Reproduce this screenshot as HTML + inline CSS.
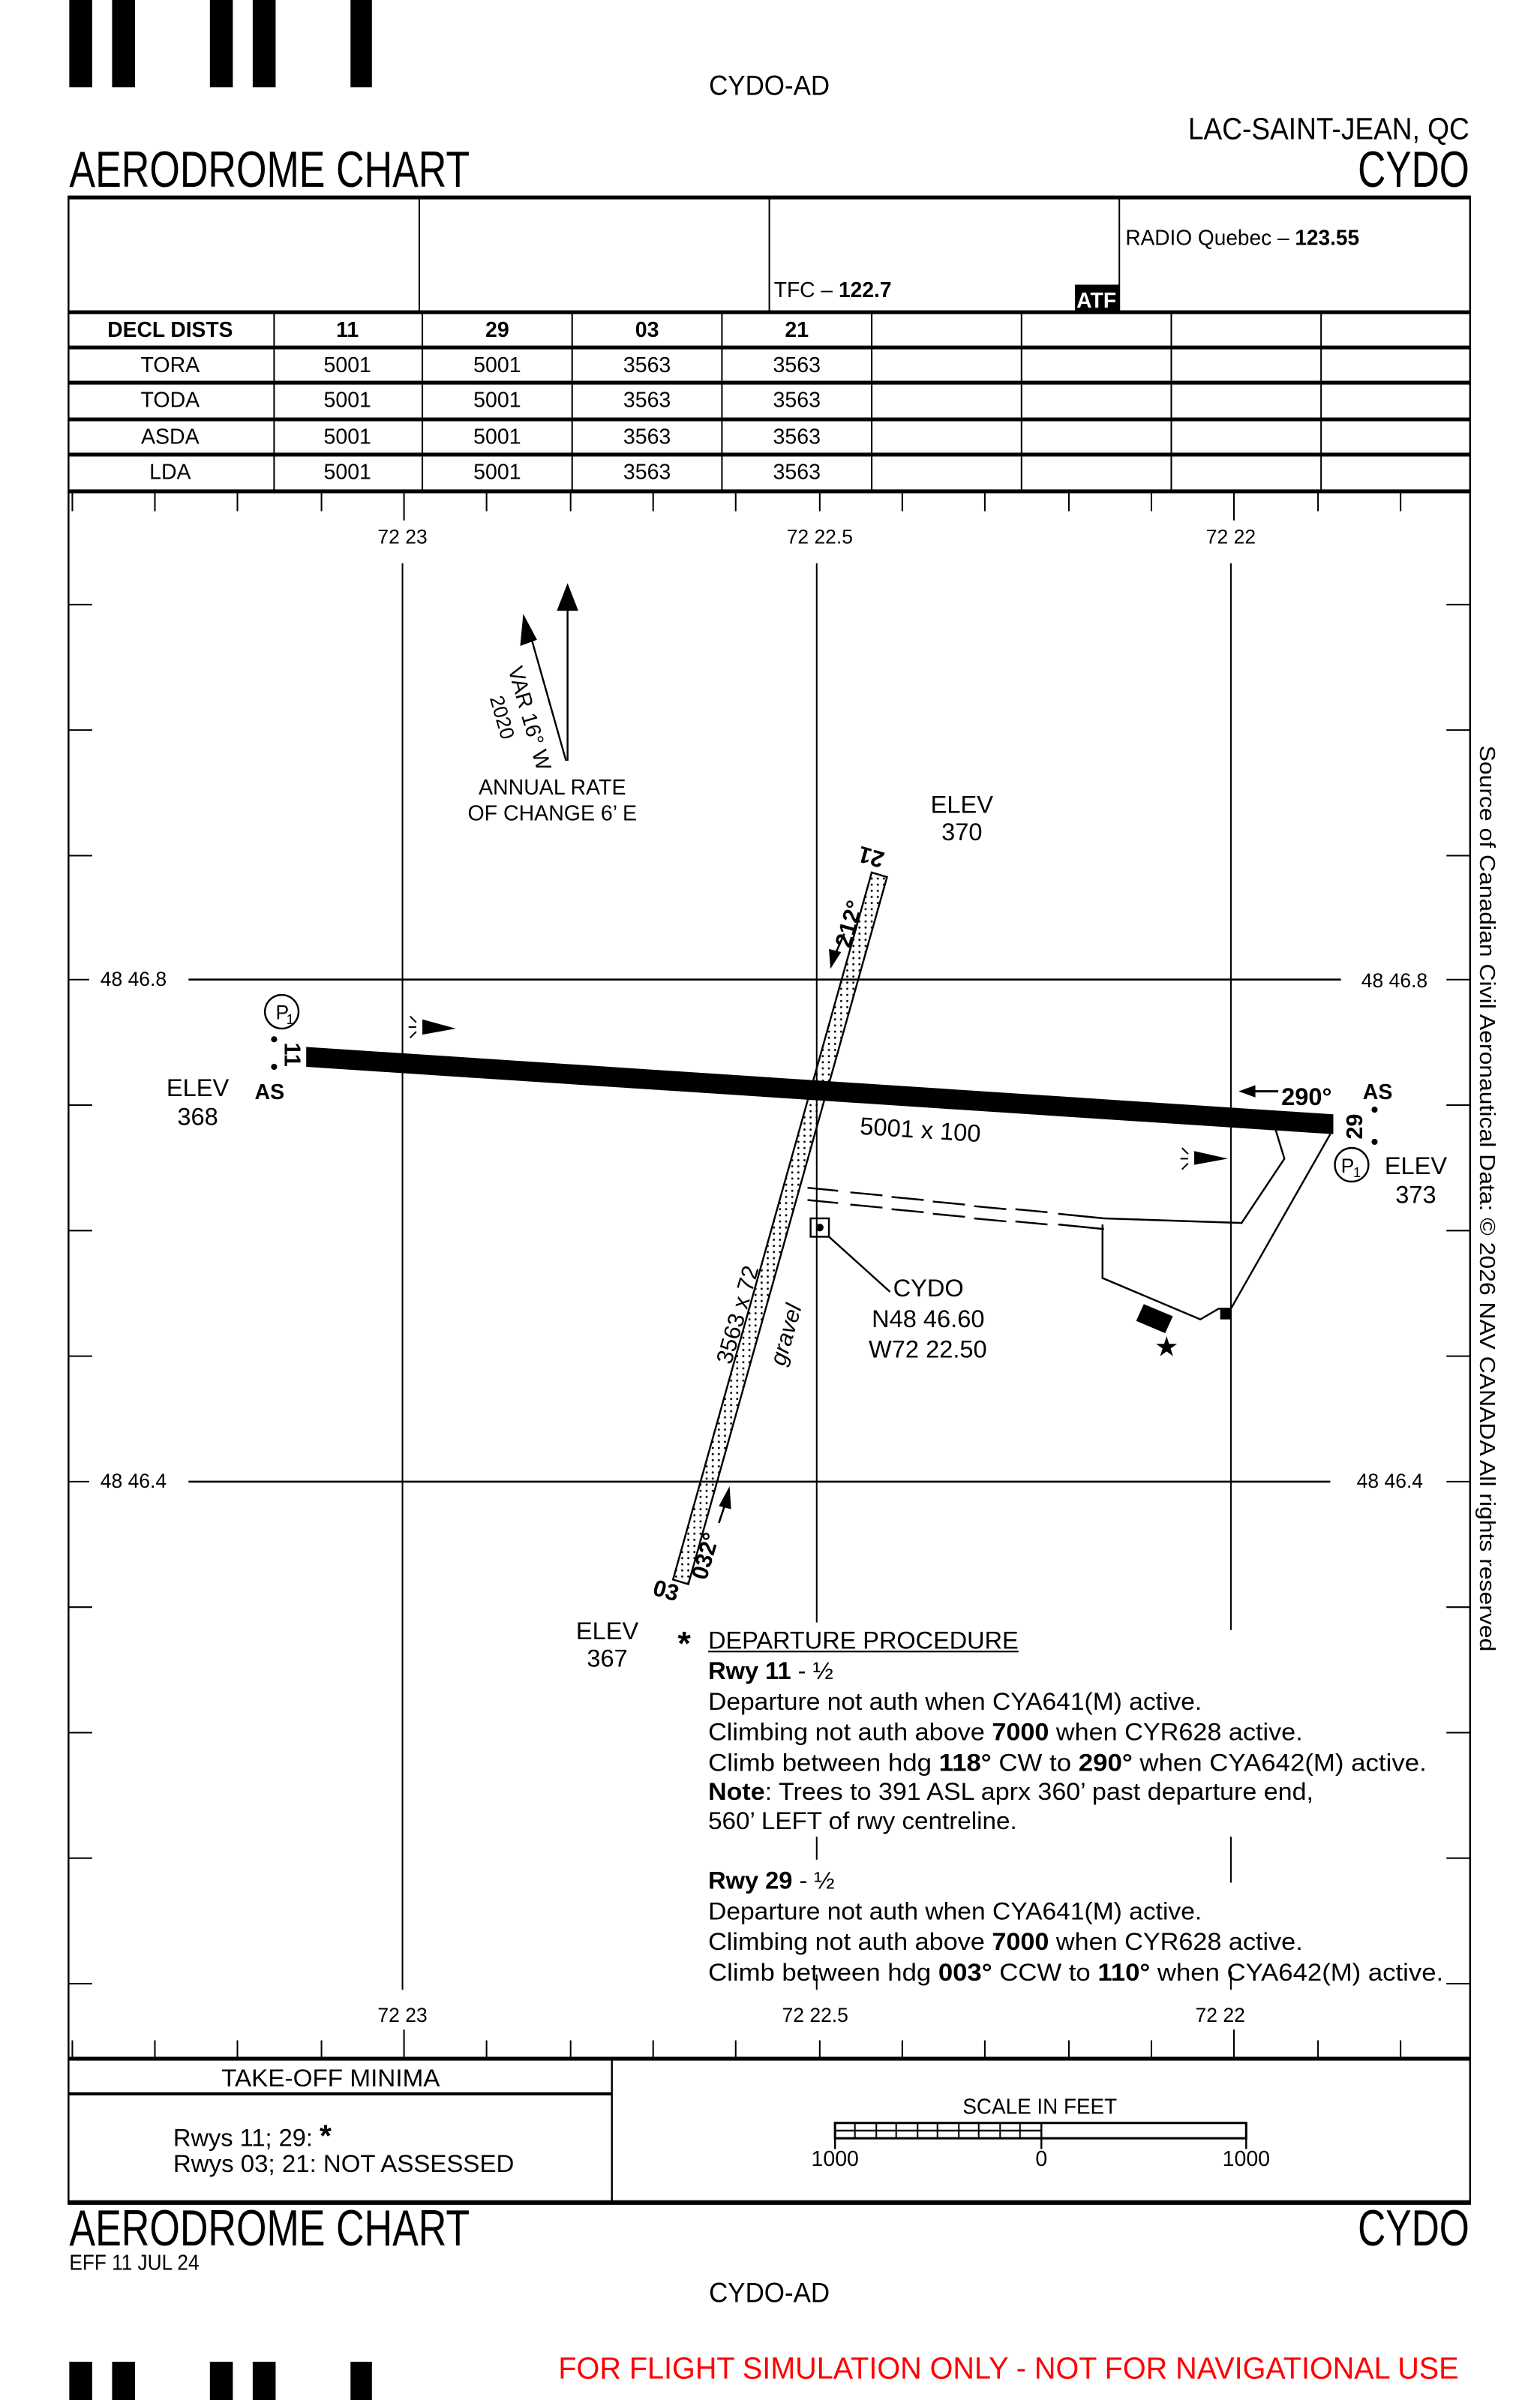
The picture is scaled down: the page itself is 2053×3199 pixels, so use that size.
<!DOCTYPE html>
<html><head><meta charset="utf-8"><style>
html,body{margin:0;padding:0;background:#fff}
svg{display:block}
text{font-family:"Liberation Sans",sans-serif;fill:#000}
</style></head><body>
<svg width="2053" height="3199" viewBox="0 0 1000 1568" preserveAspectRatio="none" xmlns="http://www.w3.org/2000/svg">
<rect width="1000" height="1568" fill="#fff"/>
<g transform="translate(44,0) scale(0.9925,1) translate(-44,0)">
<!-- barcodes -->
<g fill="#000">
<rect x="45" y="0" width="15" height="57"/><rect x="73" y="0" width="15" height="57"/>
<rect x="137" y="0" width="15" height="57"/><rect x="165" y="0" width="15" height="57"/>
<rect x="229" y="0" width="14" height="57"/>
<rect x="45" y="1543" width="15" height="25"/><rect x="73" y="1543" width="15" height="25"/>
<rect x="137" y="1543" width="15" height="25"/><rect x="165" y="1543" width="15" height="25"/>
<rect x="229" y="1543" width="14" height="25"/>
</g>
<text x="503" y="62" font-size="18" text-anchor="middle" textLength="79" lengthAdjust="spacingAndGlyphs">CYDO-AD</text>
<text x="961" y="91" font-size="20" text-anchor="end" textLength="184" lengthAdjust="spacingAndGlyphs">LAC-SAINT-JEAN, QC</text>
<text x="45" y="122" font-size="33" textLength="262" lengthAdjust="spacingAndGlyphs">AERODROME CHART</text>
<text x="961" y="122" font-size="33" text-anchor="end" textLength="73" lengthAdjust="spacingAndGlyphs">CYDO</text>

<!-- top info box -->
<g stroke="#000" fill="none">
<line x1="44" y1="129" x2="962" y2="129" stroke-width="2.5"/>
<line x1="44.5" y1="128" x2="44.5" y2="1440" stroke-width="1.2"/>
<line x1="961.5" y1="128" x2="961.5" y2="1440" stroke-width="1.2"/>
<line x1="274" y1="129" x2="274" y2="203" stroke-width="1"/>
<line x1="503" y1="129" x2="503" y2="203" stroke-width="1"/>
<line x1="732" y1="129" x2="732" y2="203" stroke-width="1"/>
<line x1="44" y1="204" x2="962" y2="204" stroke-width="2.5"/>
<line x1="44" y1="227" x2="962" y2="227" stroke-width="2.5"/>
<line x1="44" y1="250" x2="962" y2="250" stroke-width="2.5"/>
<line x1="44" y1="274" x2="962" y2="274" stroke-width="2.5"/>
<line x1="44" y1="297" x2="962" y2="297" stroke-width="2.5"/>
<line x1="44" y1="321" x2="962" y2="321" stroke-width="2.5"/>
<g stroke-width="1">
<line x1="179" y1="204" x2="179" y2="321"/><line x1="276" y1="204" x2="276" y2="321"/>
<line x1="374" y1="204" x2="374" y2="321"/><line x1="472" y1="204" x2="472" y2="321"/>
<line x1="570" y1="204" x2="570" y2="321"/><line x1="668" y1="204" x2="668" y2="321"/>
<line x1="766" y1="204" x2="766" y2="321"/><line x1="864" y1="204" x2="864" y2="321"/>
</g>
</g>
<text x="506" y="194" font-size="14" textLength="77" lengthAdjust="spacingAndGlyphs">TFC – <tspan font-weight="bold">122.7</tspan></text>
<rect x="703" y="186" width="29" height="17" fill="#000"/>
<text x="717" y="201" font-size="14" font-weight="bold" text-anchor="middle" style="fill:#fff" textLength="26" lengthAdjust="spacingAndGlyphs">ATF</text>
<text x="736" y="160" font-size="14" textLength="153" lengthAdjust="spacingAndGlyphs">RADIO Quebec – <tspan font-weight="bold">123.55</tspan></text>
<g font-size="14" text-anchor="middle">
<text x="111" y="220" font-weight="bold" textLength="82" lengthAdjust="spacingAndGlyphs">DECL DISTS</text>
<text x="227" y="220" font-weight="bold">11</text><text x="325" y="220" font-weight="bold">29</text>
<text x="423" y="220" font-weight="bold">03</text><text x="521" y="220" font-weight="bold">21</text>
<text x="111" y="243">TORA</text><text x="111" y="266">TODA</text><text x="111" y="290">ASDA</text><text x="111" y="313">LDA</text>
<text x="227" y="243">5001</text><text x="325" y="243">5001</text><text x="423" y="243">3563</text><text x="521" y="243">3563</text>
<text x="227" y="266">5001</text><text x="325" y="266">5001</text><text x="423" y="266">3563</text><text x="521" y="266">3563</text>
<text x="227" y="290">5001</text><text x="325" y="290">5001</text><text x="423" y="290">3563</text><text x="521" y="290">3563</text>
<text x="227" y="313">5001</text><text x="325" y="313">5001</text><text x="423" y="313">3563</text><text x="521" y="313">3563</text>
</g>

<!-- tick strips -->
<g stroke="#000" stroke-width="1">
<line x1="47" y1="321" x2="47" y2="334"/><line x1="101" y1="321" x2="101" y2="334"/><line x1="155" y1="321" x2="155" y2="334"/>
<line x1="210" y1="321" x2="210" y2="334"/><line x1="264" y1="321" x2="264" y2="340"/><line x1="318" y1="321" x2="318" y2="334"/>
<line x1="373" y1="321" x2="373" y2="334"/><line x1="427" y1="321" x2="427" y2="334"/><line x1="481" y1="321" x2="481" y2="334"/>
<line x1="536" y1="321" x2="536" y2="334"/><line x1="590" y1="321" x2="590" y2="334"/><line x1="644" y1="321" x2="644" y2="334"/>
<line x1="699" y1="321" x2="699" y2="334"/><line x1="753" y1="321" x2="753" y2="334"/><line x1="807" y1="321" x2="807" y2="340"/>
<line x1="862" y1="321" x2="862" y2="334"/><line x1="916" y1="321" x2="916" y2="334"/>

<line x1="47" y1="1333" x2="47" y2="1345"/><line x1="101" y1="1333" x2="101" y2="1345"/><line x1="155" y1="1333" x2="155" y2="1345"/>
<line x1="210" y1="1333" x2="210" y2="1345"/><line x1="264" y1="1326" x2="264" y2="1345"/><line x1="318" y1="1333" x2="318" y2="1345"/>
<line x1="373" y1="1333" x2="373" y2="1345"/><line x1="427" y1="1333" x2="427" y2="1345"/><line x1="481" y1="1333" x2="481" y2="1345"/>
<line x1="536" y1="1333" x2="536" y2="1345"/><line x1="590" y1="1333" x2="590" y2="1345"/><line x1="644" y1="1333" x2="644" y2="1345"/>
<line x1="699" y1="1333" x2="699" y2="1345"/><line x1="753" y1="1333" x2="753" y2="1345"/><line x1="807" y1="1326" x2="807" y2="1345"/>
<line x1="862" y1="1333" x2="862" y2="1345"/><line x1="916" y1="1333" x2="916" y2="1345"/>
<!-- side ticks -->
<g>
<line x1="44" y1="395" x2="60" y2="395"/><line x1="946" y1="395" x2="962" y2="395"/>
<line x1="44" y1="477" x2="60" y2="477"/><line x1="946" y1="477" x2="962" y2="477"/>
<line x1="44" y1="559" x2="60" y2="559"/><line x1="946" y1="559" x2="962" y2="559"/>
<line x1="44" y1="640" x2="58" y2="640"/><line x1="946" y1="640" x2="962" y2="640"/>
<line x1="44" y1="722" x2="60" y2="722"/><line x1="946" y1="722" x2="962" y2="722"/>
<line x1="44" y1="804" x2="60" y2="804"/><line x1="946" y1="804" x2="962" y2="804"/>
<line x1="44" y1="886" x2="60" y2="886"/><line x1="946" y1="886" x2="962" y2="886"/>
<line x1="44" y1="968" x2="58" y2="968"/><line x1="946" y1="968" x2="962" y2="968"/>
<line x1="44" y1="1050" x2="60" y2="1050"/><line x1="946" y1="1050" x2="962" y2="1050"/>
<line x1="44" y1="1132" x2="60" y2="1132"/><line x1="946" y1="1132" x2="962" y2="1132"/>
<line x1="44" y1="1214" x2="60" y2="1214"/><line x1="946" y1="1214" x2="962" y2="1214"/>
<line x1="44" y1="1296" x2="60" y2="1296"/><line x1="946" y1="1296" x2="962" y2="1296"/>
</g>
<!-- grid -->
<line x1="263" y1="368" x2="263" y2="1300"/>
<line x1="534" y1="368" x2="534" y2="1060"/>
<line x1="534" y1="1200" x2="534" y2="1215"/>
<line x1="534" y1="1290" x2="534" y2="1300"/>
<line x1="805" y1="368" x2="805" y2="1065"/>
<line x1="805" y1="1200" x2="805" y2="1230"/>
<line x1="805" y1="1288" x2="805" y2="1300"/>
<line x1="123" y1="640" x2="877" y2="640" stroke-width="1.3"/>
<line x1="123" y1="968" x2="870" y2="968" stroke-width="1.3"/>
</g>
<line x1="44" y1="1345" x2="962" y2="1345" stroke="#000" stroke-width="2.5"/>
<g font-size="13" text-anchor="middle">
<text x="263" y="355">72 23</text><text x="536" y="355">72 22.5</text><text x="805" y="355">72 22</text>
<text x="263" y="1321">72 23</text><text x="533" y="1321">72 22.5</text><text x="798" y="1321">72 22</text>
<text x="87" y="644">48 46.8</text><text x="912" y="645">48 46.8</text>
<text x="87" y="972">48 46.4</text><text x="909" y="972">48 46.4</text>
</g>

<!-- magnetic arrows -->
<g stroke="#000" stroke-width="1.2" fill="#000">
<line x1="371" y1="497" x2="371" y2="398"/>
<polygon points="371,381 364,399 378,399" stroke="none"/>
<line x1="370" y1="497" x2="347" y2="416"/>
<polygon points="342,401 340,422 351,418" stroke="none"/>
</g>
<text transform="translate(332,437) rotate(74)" font-size="14">VAR 16° W</text>
<text transform="translate(320,456) rotate(74)" font-size="13">2020</text>
<text x="361" y="519" font-size="14" text-anchor="middle">ANNUAL RATE</text>
<text x="361" y="536" font-size="14" text-anchor="middle">OF CHANGE 6’ E</text>

<!-- elevations -->
<g font-size="16" text-anchor="middle">
<text x="629" y="531">ELEV</text><text x="629" y="549">370</text>
<text x="129" y="716">ELEV</text><text x="129" y="735">368</text>
<text x="926" y="767">ELEV</text><text x="926" y="786">373</text>
<text x="397" y="1071">ELEV</text><text x="397" y="1089">367</text>
</g>

<!-- runway 03/21 -->
<defs><pattern id="dots" width="4" height="4" patternUnits="userSpaceOnUse"><circle cx="2" cy="2" r="0.7" fill="#000"/></pattern></defs>
<polygon points="440,1032 450,1035 580,573 570,570" fill="url(#dots)" stroke="#000" stroke-width="1.2"/>
<!-- runway 11/29 -->
<polygon points="200,684 872,728 872,741 200,697" fill="#000"/>
<text x="562" y="741" font-size="16" transform="rotate(3.7 562 741)">5001 x 100</text>

<!-- runway labels -->
<text transform="translate(571,555) rotate(196)" font-size="15" font-weight="bold" text-anchor="middle">21</text>
<text transform="translate(560,605) rotate(-74)" font-size="15" font-weight="bold" text-anchor="middle">212°</text>
<line x1="552" y1="610" x2="545" y2="626" stroke="#000" stroke-width="1.3"/>
<polygon points="543,633 542,620 550,622"/>
<text transform="translate(434,1044) rotate(16)" font-size="15" font-weight="bold" text-anchor="middle">03</text>
<text transform="translate(466,1018) rotate(-74)" font-size="15" font-weight="bold" text-anchor="middle">032°</text>
<line x1="470" y1="995" x2="475" y2="980" stroke="#000" stroke-width="1.3"/>
<polygon points="477,971 470,984 478,986"/>
<text transform="translate(478,892) rotate(-74)" font-size="15">3563 x 72</text>
<text transform="translate(513,893) rotate(-74)" font-size="15" font-style="italic">gravel</text>

<text transform="translate(186,689) rotate(90)" font-size="15" font-weight="bold" text-anchor="middle">11</text>
<circle cx="179" cy="679" r="2"/><circle cx="179" cy="697" r="2"/>
<text x="176" y="718" font-size="14" font-weight="bold" text-anchor="middle">AS</text>
<circle cx="184" cy="661" r="11" fill="none" stroke="#000" stroke-width="1.2"/>
<text x="180" y="666" font-size="13">P</text><text x="187" y="669" font-size="9">1</text>

<text transform="translate(891,736) rotate(-90)" font-size="15" font-weight="bold" text-anchor="middle">29</text>
<circle cx="899" cy="725" r="2"/><circle cx="899" cy="746" r="2"/>
<text x="901" y="718" font-size="14" font-weight="bold" text-anchor="middle">AS</text>
<circle cx="884" cy="761" r="11" fill="none" stroke="#000" stroke-width="1.2"/>
<text x="877" y="766" font-size="13">P</text><text x="885" y="769" font-size="9">1</text>
<text x="838" y="722" font-size="16" font-weight="bold">290°</text>
<line x1="818" y1="713" x2="836" y2="713" stroke="#000" stroke-width="1.5"/>
<polygon points="810,713 821,709 821,717"/>

<!-- PAPI/lights -->
<polygon points="276,666 298,672 276,676"/>
<g stroke="#000" stroke-width="1"><line x1="268" y1="664" x2="272" y2="668"/><line x1="267" y1="671" x2="272" y2="671"/><line x1="268" y1="678" x2="272" y2="674"/></g>
<polygon points="781,752 803,757 781,761"/>
<g stroke="#000" stroke-width="1"><line x1="773" y1="750" x2="777" y2="754"/><line x1="772" y1="757" x2="777" y2="757"/><line x1="773" y1="764" x2="777" y2="760"/></g>

<!-- taxiways/apron -->
<g stroke="#000" stroke-width="1.2" fill="none">
<line x1="528" y1="776" x2="548" y2="778"/><line x1="528" y1="784" x2="548" y2="786"/>
<line x1="556" y1="779" x2="577" y2="781"/><line x1="556" y1="787" x2="577" y2="789"/>
<line x1="583" y1="782" x2="604" y2="784"/><line x1="583" y1="790" x2="604" y2="792"/>
<line x1="610" y1="785" x2="631" y2="787"/><line x1="610" y1="793" x2="631" y2="795"/>
<line x1="637" y1="788" x2="658" y2="790"/><line x1="637" y1="796" x2="658" y2="798"/>
<line x1="664" y1="790" x2="685" y2="792"/><line x1="664" y1="798" x2="685" y2="800"/>
<line x1="692" y1="793" x2="722" y2="796"/><line x1="692" y1="800" x2="722" y2="803"/>
<polyline points="722,796 812,799 840,757 833,734"/>
<polyline points="721,800 721,835 785,862 797,855 805,855 870,741"/>
<rect x="530" y="796" width="12" height="12"/>
<line x1="542" y1="808" x2="582" y2="844"/>
</g>
<circle cx="536" cy="802" r="2.5"/>
<text x="584" y="847" font-size="16">CYDO</text>
<text x="570" y="867" font-size="16">N48 46.60</text>
<text x="568" y="887" font-size="16">W72 22.50</text>
<polygon points="748,852 767,860 762,871 743,863"/>
<polygon points="798,855 805,855 805,862 798,862"/>
<text x="763" y="886" font-size="18" text-anchor="middle">★</text>

<!-- departure procedure -->
<text x="443" y="1081" font-size="22" font-weight="bold">*</text>
<g font-size="16">
<text x="463" y="1077" textLength="203" lengthAdjust="spacingAndGlyphs">DEPARTURE PROCEDURE</text>
<line x1="463" y1="1079" x2="666" y2="1079" stroke="#000" stroke-width="1"/>
<text x="463" y="1097"><tspan font-weight="bold">Rwy 11</tspan> - ½</text>
<text x="463" y="1117" textLength="323" lengthAdjust="spacingAndGlyphs">Departure not auth when CYA641(M) active.</text>
<text x="463" y="1137" textLength="389" lengthAdjust="spacingAndGlyphs">Climbing not auth above  <tspan font-weight="bold">7000</tspan>  when CYR628 active.</text>
<text x="463" y="1157" textLength="470" lengthAdjust="spacingAndGlyphs">Climb between hdg  <tspan font-weight="bold">118°</tspan> CW to  <tspan font-weight="bold">290°</tspan> when CYA642(M) active.</text>
<text x="463" y="1176" textLength="396" lengthAdjust="spacingAndGlyphs"><tspan font-weight="bold">Note</tspan>: Trees to 391 ASL aprx 360’ past departure end,</text>
<text x="463" y="1195" textLength="202" lengthAdjust="spacingAndGlyphs">560’ LEFT of rwy centreline.</text>
<text x="463" y="1234"><tspan font-weight="bold">Rwy 29</tspan> - ½</text>
<text x="463" y="1254" textLength="323" lengthAdjust="spacingAndGlyphs">Departure not auth when CYA641(M) active.</text>
<text x="463" y="1274" textLength="389" lengthAdjust="spacingAndGlyphs">Climbing not auth above  <tspan font-weight="bold">7000</tspan> when CYR628 active.</text>
<text x="463" y="1294" textLength="481" lengthAdjust="spacingAndGlyphs">Climb between hdg  <tspan font-weight="bold">003°</tspan> CCW to  <tspan font-weight="bold">110°</tspan> when CYA642(M) active.</text>
</g>

<!-- copyright vertical -->
<text transform="translate(968,487) rotate(90)" font-size="14" textLength="592" lengthAdjust="spacingAndGlyphs">Source of Canadian Civil Aeronautical Data: © 2026 NAV CANADA All rights reserved</text>

<!-- bottom box -->
<g stroke="#000" fill="none">
<line x1="400" y1="1345" x2="400" y2="1439" stroke-width="1.2"/>
<line x1="44" y1="1368" x2="400" y2="1368" stroke-width="2"/>
<line x1="44" y1="1439" x2="962" y2="1439" stroke-width="3"/>
<rect x="546" y="1387" width="269" height="10" stroke-width="1.5"/>
<line x1="546" y1="1397" x2="546" y2="1404" stroke-width="1.2"/>
<line x1="681" y1="1397" x2="681" y2="1404" stroke-width="1.2"/>
<line x1="815" y1="1397" x2="815" y2="1404" stroke-width="1.2"/>
<line x1="681" y1="1387" x2="681" y2="1397" stroke-width="1.2"/>
<line x1="546" y1="1392" x2="681" y2="1392" stroke-width="1.2"/>
<line x1="559" y1="1387" x2="559" y2="1397"/><line x1="573" y1="1387" x2="573" y2="1397"/>
<line x1="586" y1="1387" x2="586" y2="1397"/><line x1="600" y1="1387" x2="600" y2="1397"/>
<line x1="613" y1="1387" x2="613" y2="1397"/><line x1="627" y1="1387" x2="627" y2="1397"/>
<line x1="640" y1="1387" x2="640" y2="1397"/><line x1="654" y1="1387" x2="654" y2="1397"/>
<line x1="667" y1="1387" x2="667" y2="1397"/>
</g>
<text x="216" y="1363" font-size="16" text-anchor="middle" textLength="143" lengthAdjust="spacingAndGlyphs">TAKE-OFF MINIMA</text>
<text x="113" y="1402" font-size="16">Rwys 11; 29: <tspan font-weight="bold" font-size="20">*</tspan></text>
<text x="113" y="1419" font-size="16" textLength="223" lengthAdjust="spacingAndGlyphs">Rwys 03; 21: NOT ASSESSED</text>
<text x="680" y="1381" font-size="14" text-anchor="middle" textLength="101" lengthAdjust="spacingAndGlyphs">SCALE IN FEET</text>
<g font-size="14" text-anchor="middle"><text x="546" y="1415">1000</text><text x="681" y="1415">0</text><text x="815" y="1415">1000</text></g>

<text x="45" y="1467" font-size="33" textLength="262" lengthAdjust="spacingAndGlyphs">AERODROME CHART</text>
<text x="961" y="1467" font-size="33" text-anchor="end" textLength="73" lengthAdjust="spacingAndGlyphs">CYDO</text>
<text x="45" y="1483" font-size="14" textLength="85" lengthAdjust="spacingAndGlyphs">EFF 11 JUL 24</text>
<text x="503" y="1504" font-size="18" text-anchor="middle" textLength="79" lengthAdjust="spacingAndGlyphs">CYDO-AD</text>
<text x="954" y="1554" font-size="20" text-anchor="end" style="fill:#f00" textLength="589" lengthAdjust="spacingAndGlyphs">FOR FLIGHT SIMULATION ONLY - NOT FOR NAVIGATIONAL USE</text>
</g>
</svg>
</body></html>
